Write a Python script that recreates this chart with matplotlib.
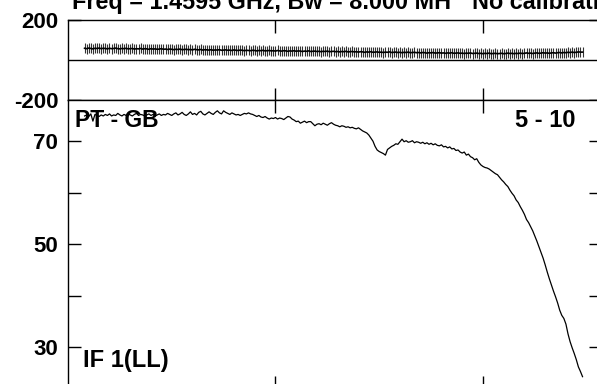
"""Phase and amplitude spectrum for one baseline, POSSM-style."""

import numpy as np
import matplotlib
matplotlib.use('Agg')
import matplotlib.pyplot as plt

plt.rcParams['font.family'] = ['Liberation Sans', 'DejaVu Sans']
plt.rcParams['font.weight'] = 'bold'
plt.rcParams['axes.unicode_minus'] = False

# spectral channels 8..248
FIRST_CHAN = 8

# amplitude per channel
AMP = [
    74.9, 75.1, 74.8, 75.3, 73.9, 75.2, 75.0, 74.8, 75.1, 74.9,
    75.2, 75.0, 75.3, 74.9, 75.1, 75.0, 75.4, 75.1, 74.9, 75.2,
    75.0, 75.3, 75.1, 74.9, 75.2, 75.4, 75.0, 75.2, 75.1, 74.9,
    75.1, 75.3, 75.0, 75.2, 74.9, 75.1, 75.3, 75.0, 75.2, 75.1,
    75.4, 75.2, 75.0, 75.3, 75.5, 75.1, 75.3, 75.6, 75.2, 75.0,
    75.3, 75.7, 75.2, 75.4, 75.1, 75.6, 75.8, 75.3, 75.1, 75.4,
    75.7, 75.4, 75.2, 75.6, 75.9, 75.5, 75.3, 75.9, 75.6, 75.4,
    75.2, 75.5, 75.3, 75.1, 75.2, 75.0, 75.2, 75.4, 75.3, 75.5,
    75.3, 75.2, 75.0, 74.8, 75.0, 74.7, 74.6, 74.8, 74.5, 74.3,
    74.5, 74.4, 74.6, 74.3, 74.5, 74.4, 74.2, 74.5, 74.8, 74.7,
    74.3, 74.1, 73.8, 73.9, 73.5, 73.7, 73.9, 73.6, 73.8, 73.8,
    73.4, 73.0, 73.3, 73.4, 73.2, 73.5, 73.3, 73.1, 73.4, 73.6,
    73.3, 73.1, 73.0, 72.8, 73.0, 72.9, 72.7, 72.8, 72.6, 72.7,
    72.5, 72.4, 72.6, 72.3, 72.0, 71.8, 71.6, 71.2, 70.6, 70.0,
    69.0, 68.3, 68.0, 67.8, 67.6, 67.3, 68.4, 68.7, 69.0, 69.2,
    69.5, 69.4, 69.9, 70.4, 69.9, 70.1, 69.8, 69.9, 70.1, 69.7,
    69.9, 69.8, 69.6, 69.8, 69.5, 69.7, 69.4, 69.6, 69.3, 69.5,
    69.2, 69.1, 69.3, 68.9, 69.0, 68.7, 68.9, 68.5, 68.6, 68.2,
    68.3, 67.9, 67.7, 67.9, 67.3, 67.5, 67.0, 66.8, 66.4, 66.6,
    65.9, 65.4, 65.1, 64.9, 64.8, 64.6, 64.3, 64.0, 63.7, 63.5,
    63.0, 62.5, 62.1, 61.6, 61.2, 60.5, 59.9, 59.4, 58.6, 58.1,
    57.3, 56.6, 55.8, 54.8, 54.2, 53.4, 52.6, 51.6, 50.6, 49.5,
    48.4, 47.3, 46.0, 44.6, 43.3, 42.1, 40.9, 39.8, 38.6, 37.2,
    36.2, 35.6, 34.5, 32.6, 31.1, 29.9, 28.8, 27.6, 26.2, 25.3,
    24.3,
]

# phase per channel (degrees)
PHASE = [
    57, 55, 58, 56, 54, 57, 56, 58, 55, 57,
    56, 54, 57, 55, 56, 58, 55, 54, 56, 55,
    57, 54, 55, 56, 53, 55, 54, 56, 53, 55,
    54, 52, 55, 53, 54, 52, 53, 55, 52, 53,
    51, 53, 52, 50, 52, 51, 53, 50, 51, 52,
    50, 51, 49, 52, 50, 49, 51, 48, 50, 49,
    48, 50, 47, 49, 48, 50, 47, 48, 49, 47,
    48, 46, 49, 47, 46, 48, 47, 45, 47, 46,
    45, 47, 46, 44, 46, 45, 47, 44, 45, 46,
    44, 45, 43, 46, 44, 43, 45, 44, 42, 44,
    43, 45, 42, 44, 43, 41, 43, 42, 44, 41,
    42, 43, 41, 42, 40, 42, 41, 43, 40, 41,
    42, 40, 41, 39, 41, 40, 42, 39, 40, 41,
    39, 40, 38, 40, 39, 37, 39, 38, 40, 37,
    38, 39, 37, 38, 36, 38, 37, 39, 36, 37,
    38, 36, 37, 35, 37, 36, 38, 35, 36, 37,
    35, 36, 34, 36, 35, 33, 35, 34, 36, 33,
    34, 35, 33, 34, 32, 34, 33, 35, 32, 33,
    34, 32, 33, 31, 33, 32, 34, 31, 32, 33,
    31, 32, 30, 32, 31, 33, 30, 31, 32, 30,
    31, 32, 30, 31, 33, 31, 32, 30, 32, 31,
    33, 31, 32, 34, 32, 33, 31, 33, 34, 32,
    33, 35, 33, 34, 32, 34, 35, 33, 35, 36,
    34, 36, 35, 37, 36, 38, 36, 37, 39, 38,
    38,
]

PHASE_TICKS = [-200, 200]
AMP_TICKS = [30, 50, 70]
AMP_MINOR = [40, 60]
CHAN_TICKS = [100, 200]

TITLE = 'Freq = 1.4595 GHz, Bw = 8.000 MH'
CAL_NOTE = 'No calibration'
SOURCE = 'PT - GB'
BASELINE = '5 - 10'
IF_LABEL = 'IF 1(LL)'

W, H = 597, 384


def box(left, top, right, bottom):
    """Axes rectangle from pixel edges (top-left origin)."""
    return [left / W, 1 - bottom / H, (right - left) / W, (bottom - top) / H]


def style(ax):
    ax.tick_params(which='both', direction='in', length=9, width=1,
                   top=True, right=True, labelbottom=False,
                   labelsize=16, pad=7)
    ax.set_xticks(CHAN_TICKS)
    ax.set_xlim(0, 256.9)
    for sp in ax.spines.values():
        sp.set_linewidth(1.0)


chans = np.arange(FIRST_CHAN, FIRST_CHAN + len(AMP))

fig = plt.figure(figsize=(W / 100, H / 100), dpi=100)

# phase panel
ax_ph = fig.add_axes(box(68, 19.5, 601, 100))
style(ax_ph)
ax_ph.set_ylim(-200, 200)
ax_ph.set_yticks(PHASE_TICKS)
ax_ph.axhline(0, color='black', lw=1.0)
ax_ph.plot(chans, PHASE, color='black', lw=1.2)
ax_ph.plot(chans, PHASE, ls='none', marker='|', ms=7.5, mew=0.8,
           color='black', alpha=0.8)

# amplitude panel
ax_amp = fig.add_axes(box(68, 100, 601, 388))
style(ax_amp)
ax_amp.set_ylim(22.1, 78.0)
ax_amp.set_yticks(AMP_TICKS)
ax_amp.set_yticks(AMP_MINOR, minor=True)
ax_amp.plot(chans, AMP, color='black', lw=0.9)

fig.text(72 / W, 1 - 9 / H, TITLE, fontsize=16.8, fontweight='bold',
         va='baseline', ha='left')
fig.text(472 / W, 1 - 9 / H, CAL_NOTE, fontsize=16.8, fontweight='bold',
         va='baseline', ha='left')
fig.text(75 / W, 1 - 127 / H, SOURCE, fontsize=16.5, fontweight='bold',
         va='baseline', ha='left')
fig.text(515 / W, 1 - 127 / H, BASELINE, fontsize=17, fontweight='bold',
         va='baseline', ha='left')
fig.text(83 / W, 1 - 367 / H, IF_LABEL, fontsize=17, fontweight='bold',
         va='baseline', ha='left')

fig.savefig('out.png', dpi=100)
